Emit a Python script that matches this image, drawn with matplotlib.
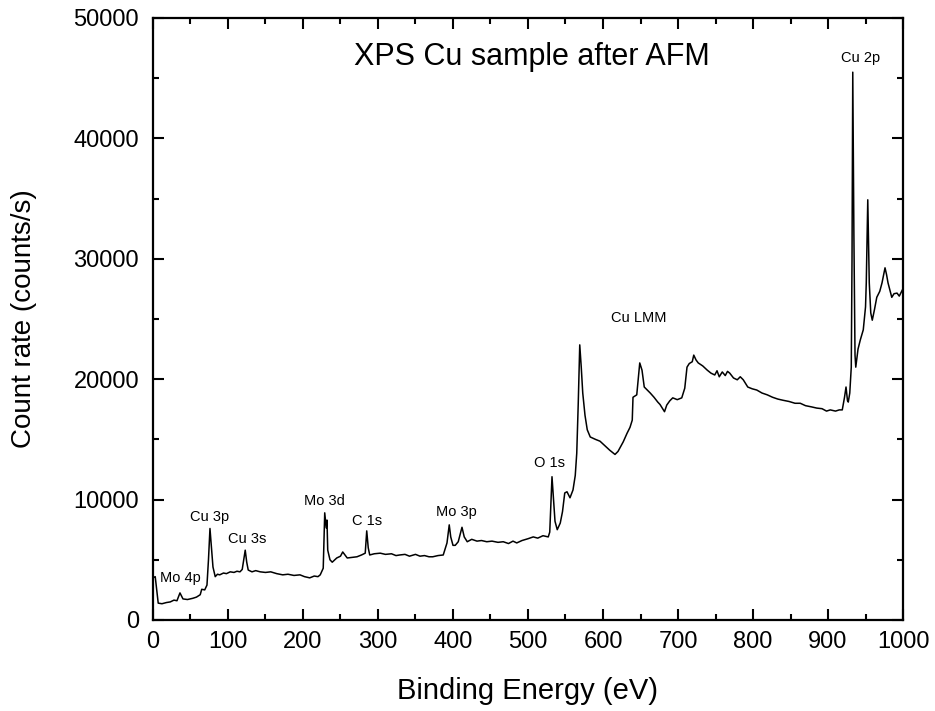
import matplotlib
matplotlib.use("Agg")
import matplotlib.pyplot as plt
from matplotlib.ticker import MultipleLocator

plt.rcParams['font.family'] = ['Liberation Sans', 'DejaVu Sans']

# binding energy (eV) and count rate (counts/s)
energy = [0, 3, 5, 7, 12, 18, 23, 28, 32, 36, 40, 46, 53, 58, 63, 65, 69, 72, 74, 76,
          78, 80, 83, 86, 89, 94, 98, 103, 108, 112, 116, 119, 121, 123, 125, 127, 132, 137, 143, 150,
          157, 165, 173, 180, 188, 196, 202, 209, 215, 220, 223, 227, 229, 231, 232, 233, 236, 239, 245, 250,
          253, 256, 259, 265, 272, 278, 283, 285, 287, 289, 295, 303, 310, 318, 324, 329, 336, 342, 350, 356,
          362, 368, 373, 380, 387, 390, 392, 395, 397, 400, 403, 407, 410, 412, 415, 419, 425, 432, 438, 445,
          452, 460, 467, 474, 480, 485, 492, 500, 507, 513, 520, 527, 529, 531, 532, 534, 536, 539, 543, 546,
          549, 552, 556, 560, 563, 565, 567, 569, 571, 573, 576, 579, 583, 590, 596, 602, 609, 613, 616, 620,
          623, 627, 632, 636, 639, 640, 645, 647, 649, 652, 655, 659, 663, 668, 673, 676, 679, 682, 685, 689,
          693, 699, 705, 709, 712, 715, 719, 721, 724, 727, 733, 739, 744, 749, 752, 755, 759, 763, 766, 769,
          774, 779, 783, 787, 793, 799, 805, 812, 819, 826, 833, 840, 848, 856, 863, 870, 878, 885, 892, 898,
          903, 910, 915, 919, 922, 924, 926, 927, 929, 931, 932, 933, 934.5, 936, 937, 940, 943, 947, 950, 951,
          953, 955, 957, 959, 962, 965, 969, 972, 976, 978, 980, 983, 985, 988, 992, 995, 999]
counts = [3500, 3600, 2500, 1400, 1350, 1450, 1500, 1650, 1600, 2250, 1750, 1700, 1800, 1900, 2100, 2550, 2500, 2900, 5000, 7600,
          6000, 4400, 3600, 3800, 3750, 3900, 3850, 4000, 3950, 4050, 4000, 4200, 5000, 5800, 4800, 4150, 4000, 4100, 4000, 3950,
          4000, 3850, 3750, 3800, 3700, 3750, 3600, 3500, 3650, 3600, 3750, 4300, 8900, 7650, 8300, 5800, 5000, 4800, 5150, 5300,
          5650, 5400, 5150, 5200, 5250, 5400, 5550, 7400, 6000, 5400, 5500, 5550, 5450, 5500, 5350, 5400, 5450, 5300, 5450, 5300,
          5350, 5250, 5250, 5350, 5400, 6000, 6400, 7900, 6900, 6200, 6200, 6500, 7200, 7700, 6900, 6500, 6700, 6550, 6600, 6500,
          6550, 6450, 6500, 6350, 6550, 6400, 6600, 6750, 6900, 6800, 7000, 6900, 7300, 10500, 11900, 10000, 8200, 7500, 8050, 9000,
          10550, 10650, 10150, 10800, 12000, 13850, 18000, 22850, 21000, 18850, 17000, 15800, 15200, 15000, 14850, 14500, 14100, 13900, 13750, 14000,
          14350, 14800, 15500, 16000, 16600, 18500, 18700, 20000, 21350, 20750, 19350, 19100, 18850, 18500, 18100, 17900, 17600, 17300, 17850, 18200,
          18450, 18300, 18450, 19250, 21000, 21300, 21450, 22000, 21600, 21350, 21100, 20750, 20500, 20350, 20700, 20200, 20600, 20300, 20650, 20500,
          20100, 19950, 20200, 19950, 19350, 19200, 19100, 18850, 18700, 18500, 18350, 18250, 18150, 18000, 18000, 17800, 17700, 17600, 17550, 17350,
          17450, 17350, 17450, 17450, 18500, 19350, 18200, 18100, 18850, 21000, 30000, 45500, 32000, 22000, 21000, 22500, 23250, 24100, 26000, 28000,
          34900, 28000, 25500, 24900, 25800, 26800, 27300, 28000, 29250, 28700, 28000, 27300, 26800, 27100, 27150, 26900, 27400]

# peak labels and where they sit (data coords)
peak_names = ['Mo 4p', 'Cu 3p', 'Cu 3s', 'Mo 3d', 'C 1s', 'Mo 3p', 'O 1s', 'Cu LMM', 'Cu 2p']
peak_x = [37, 75, 125, 228, 285, 405, 529, 647, 943]
peak_y = [3500, 8550, 6700, 9900, 8200, 8950, 13050, 25100, 46700]

fig = plt.figure(figsize=(9.35, 7.11), dpi=100)
ax = fig.add_axes([0.1636, 0.128, 0.8022, 0.8467])

ax.plot(energy, counts, color='black', linewidth=1.1)

for name, x, y in zip(peak_names, peak_x, peak_y):
    ax.text(x, y, name, ha='center', va='center', fontsize=10.5)

ax.text(505, 46750, 'XPS Cu sample after AFM', ha='center', va='center', fontsize=22)

ax.set_xlim(0, 1000)
ax.set_ylim(0, 50000)
ax.xaxis.set_major_locator(MultipleLocator(100))
ax.xaxis.set_minor_locator(MultipleLocator(50))
ax.yaxis.set_major_locator(MultipleLocator(10000))
ax.yaxis.set_minor_locator(MultipleLocator(5000))
ax.tick_params(which='both', direction='in', top=True, right=True, width=1.5, labelsize=17)
ax.tick_params(which='major', length=8)
ax.tick_params(which='minor', length=4)
ax.tick_params(axis='x', which='major', pad=8)
ax.tick_params(axis='y', which='major', pad=10)
for s in ax.spines.values():
    s.set_linewidth(1.6)

ax.set_xlabel('Binding Energy (eV)', fontsize=21, labelpad=17)
ax.set_ylabel('Count rate (counts/s)', fontsize=20, labelpad=26)

fig.savefig('out.png', dpi=100)
